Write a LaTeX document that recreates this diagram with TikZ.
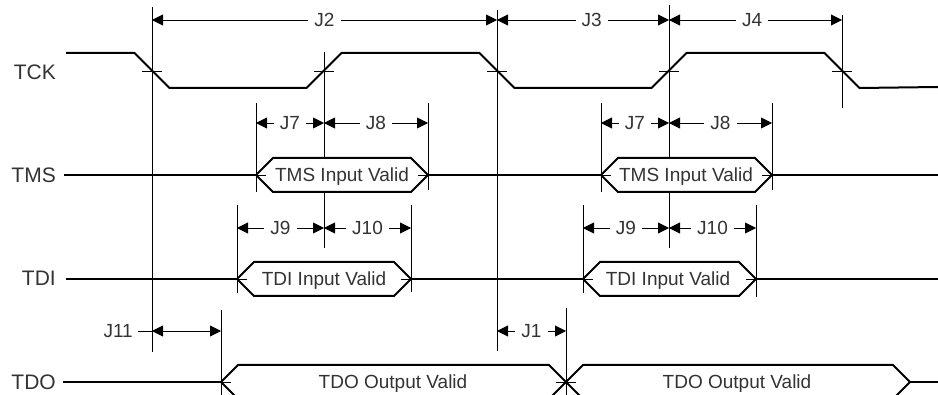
\documentclass[tikz,border=0pt]{standalone}
\usepackage{fontspec}
\setmainfont{Liberation Sans}
\usetikzlibrary{arrows.meta}
\begin{document}
\begin{tikzpicture}[x=1pt,y=-1pt,
  wave/.style={line width=2pt},
  validbox/.style={line width=2pt,fill=white},
  vline/.style={line width=0.9pt},
  tickmark/.style={line width=0.8pt},
  dim/.style={line width=0.9pt,{Triangle[length=11pt,width=11pt]}-{Triangle[length=11pt,width=11pt]}},
  lbl/.style={fill=white,inner xsep=6pt,inner ysep=0pt,text height=13.6pt,text depth=0pt,
    font=\fontsize{19}{22}\selectfont,text=black!80},
  boxtext/.style={inner sep=0pt,text height=13.6pt,text depth=0pt,
    font=\fontsize{19}{22}\selectfont,text=black!80},
  siglabel/.style={anchor=east,inner sep=0pt,text height=15pt,text depth=0pt,
    font=\fontsize{21}{24}\selectfont,text=black!80}]
\clip (0,0) rectangle (938,395);
\useasboundingbox (0,0) rectangle (938,395);

% signal labels
\node[siglabel] (tck) at (56,72) {TCK};
\node[siglabel] (tms) at (56,175) {TMS};
\node[siglabel] (tdi) at (56,278) {TDI};
\node[siglabel] (tdo) at (56,382) {TDO};

% vertical reference lines
\coordinate (v1t) at (152,7);   \coordinate (v1b) at (152,352);
\coordinate (v2t) at (324,52);  \coordinate (v2b) at (324,248);
\coordinate (v3t) at (497,10);  \coordinate (v3b) at (497,351);
\coordinate (v4t) at (669,5);   \coordinate (v4b) at (669,248);
\coordinate (v5t) at (842,15);  \coordinate (v5b) at (842,108);
\coordinate (m1t) at (256,103); \coordinate (m1b) at (256,192);
\coordinate (m2t) at (428,103); \coordinate (m2b) at (428,190);
\coordinate (m3t) at (601,103); \coordinate (m3b) at (601,192);
\coordinate (m4t) at (772,103); \coordinate (m4b) at (772,190);
\coordinate (d1t) at (237,205); \coordinate (d1b) at (237,293);
\coordinate (d2t) at (411,205); \coordinate (d2b) at (411,292);
\coordinate (d3t) at (583,205); \coordinate (d3b) at (583,293);
\coordinate (d4t) at (756,205); \coordinate (d4b) at (756,297);
\coordinate (o1t) at (221,310); \coordinate (o1b) at (221,396);
\coordinate (o2t) at (566,308); \coordinate (o2b) at (566,396);
\foreach \n in {v1,v2,v3,v4,v5,m1,m2,m3,m4,d1,d2,d3,d4,o1,o2}
  \draw[vline] (\n t) -- (\n b);

% rows for dimension arrows
\coordinate (rA) at (0,20);
\coordinate (rB) at (0,123);
\coordinate (rC) at (0,228);
\coordinate (rD) at (0,331);

% TCK waveform
\draw[wave] (66,53) -- (134.5,53) -- (169.5,88) -- (306.5,88) -- (341.5,53)
  -- (479.5,53) -- (514.5,88) -- (651.5,88) -- (686.5,53) -- (824.5,53)
  -- (859.5,88) -- (938,87);
\coordinate (c1) at (152,71); \coordinate (c2) at (324,71);
\coordinate (c3) at (497,71); \coordinate (c4) at (669,71);
\coordinate (c5) at (842,71);

% TMS waveform
\draw[wave] (64,175) -- (256,175);
\draw[validbox] (256,175) -- (273,158) -- (411,158) -- (428,175) -- (411,192) -- (273,192) -- cycle;
\draw[wave] (428,175) -- (601,175);
\draw[validbox] (601,175) -- (618,158) -- (755,158) -- (772,175) -- (755,192) -- (618,192) -- cycle;
\draw[wave] (772,175) -- (938,175);
\node[boxtext] (tmsv1) at (342,175) {TMS Input Valid};
\node[boxtext] (tmsv2) at (686,175) {TMS Input Valid};
\coordinate (p1) at (256,175); \coordinate (p2) at (428,175);
\coordinate (p3) at (601,175); \coordinate (p4) at (772,175);

% TDI waveform
\draw[wave] (66,279) -- (237,279);
\draw[validbox] (237,279) -- (254,262) -- (394,262) -- (411,279) -- (394,296) -- (254,296) -- cycle;
\draw[wave] (411,279) -- (583,279);
\draw[validbox] (583,279) -- (600,262) -- (739,262) -- (756,279) -- (739,296) -- (600,296) -- cycle;
\draw[wave] (756,279) -- (938,279);
\node[boxtext] (tdiv1) at (324,279) {TDI Input Valid};
\node[boxtext] (tdiv2) at (668,279) {TDI Input Valid};
\coordinate (q1) at (237,279); \coordinate (q2) at (411,279);
\coordinate (q3) at (583,279); \coordinate (q4) at (756,279);

% TDO waveform
\draw[wave] (63,382) -- (221,382);
\draw[validbox] (221,382) -- (238,365) -- (549,365) -- (566,382) -- (549,399) -- (238,399) -- cycle;
\draw[validbox] (566,382) -- (583,365) -- (893,365) -- (910,382) -- (893,399) -- (583,399) -- cycle;
\draw[wave] (910,382) -- (938,382);
\node[boxtext] (tdov1) at (393,382) {TDO Output Valid};
\node[boxtext] (tdov2) at (737,382) {TDO Output Valid};
\coordinate (s1) at (221,382); \coordinate (s2) at (566,382);

% crossing tick marks
\foreach \n in {c1,c2,c3,c4,c5,p1,p2,p3,p4,q1,q2,q3,q4,s1,s2}
  \draw[tickmark] ([xshift=-10pt]\n) -- ([xshift=10pt]\n);
\draw[vline] (o2t) -- (o2b);

% timing dimensions
\draw[dim] (v1t |- rA) -- node[lbl] {J2} (v3t |- rA);
\draw[dim] (v3t |- rA) -- node[lbl,pos=0.55] {J3} (v4t |- rA);
\draw[dim] (v4t |- rA) -- node[lbl,pos=0.48] {J4} (v5t |- rA);

\draw[dim] (m1t |- rB) -- node[lbl] {J7} (v2t |- rB);
\draw[dim] (v2t |- rB) -- node[lbl] {J8} (m2t |- rB);
\draw[dim] (m3t |- rB) -- node[lbl] {J7} (v4t |- rB);
\draw[dim] (v4t |- rB) -- node[lbl] {J8} (m4t |- rB);

\draw[dim] (d1t |- rC) -- node[lbl] {J9} (v2t |- rC);
\draw[dim] (v2t |- rC) -- node[lbl] {J10} (d2t |- rC);
\draw[dim] (d3t |- rC) -- node[lbl] {J9} (v4t |- rC);
\draw[dim] (v4t |- rC) -- node[lbl] {J10} (d4t |- rC);

\draw[dim] (v1t |- rD) -- (o1t |- rD);
\node[lbl,anchor=east,inner xsep=0pt] (j11) at (133,331) {J11};
\coordinate (j11e) at (138,331);
\draw[vline] (j11e) -- (v1t |- rD);
\draw[dim] (v3t |- rD) -- node[lbl] {J1} (o2t |- rD);
\end{tikzpicture}
\end{document}
